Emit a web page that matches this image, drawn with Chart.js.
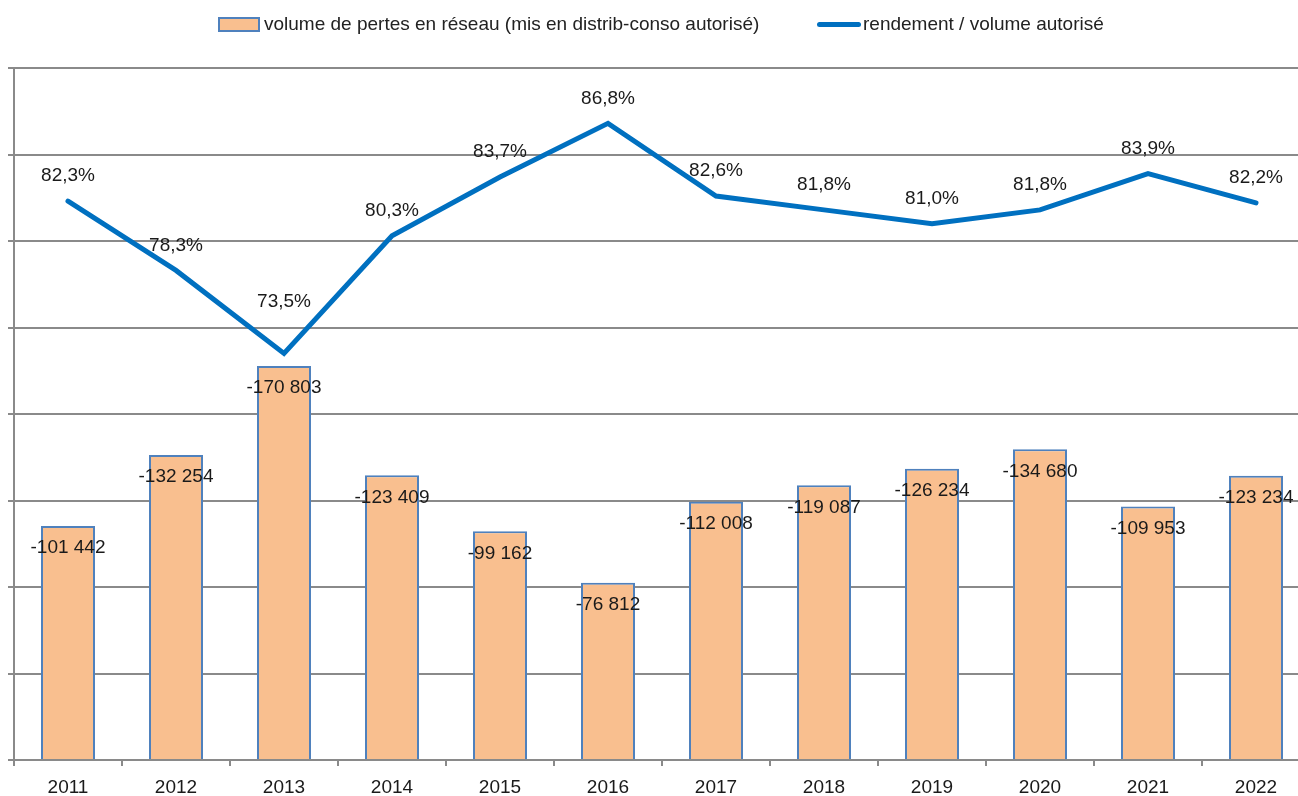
<!DOCTYPE html>
<html>
<head>
<meta charset="utf-8">
<script src="https://cdn.jsdelivr.net/npm/chart.js@4.4.1/dist/chart.umd.min.js"></script>
<style>
    body { margin: 0; overflow: hidden; background: #fff; font-family: 'Liberation Sans', Arial, sans-serif; }
    #wrap { position: relative; width: 1298px; height: 796px; overflow: hidden; }
    .leg { position: absolute; top: 13px; font-size: 19px; color: #222; display: flex; align-items: center; white-space: nowrap; }
    .leg .box { width: 38px; height: 11px; background: #F9BF8F; border: 2px solid #4F81BD; margin-right: 4px; }
    .leg .ln { width: 44px; height: 5px; background: #0070C0; border-radius: 3px; margin-right: 2px; }
    canvas { position: absolute; left: 0; top: 0; }
</style>
</head>
<body>
<div id="wrap">
    <canvas id="chart" width="1312" height="810"></canvas>
    <div class="leg" style="left:218px"><span class="box"></span>volume de pertes en réseau (mis en distrib-conso autorisé)</div>
    <div class="leg" style="left:817px"><span class="ln"></span>rendement / volume autorisé</div>
</div>
<script>
// DATA
const years = ['2011', '2012', '2013', '2014', '2015', '2016', '2017', '2018', '2019', '2020', '2021', '2022'];
const pertes = [-101442, -132254, -170803, -123409, -99162, -76812, -112008, -119087, -126234, -134680, -109953, -123234];
const rendement = [82.3, 78.3, 73.5, 80.3, 83.7, 86.8, 82.6, 81.8, 81.0, 81.8, 83.9, 82.2];
// DATA

const gridGrey = '#8a8a8a';
const labelFont = '19px "Liberation Sans", Arial, sans-serif';

function fmtVolume(v){
    let s = Math.abs(v).toString().replace(/\B(?=(\d{3})+(?!\d))/g, ' ');
    return (v < 0 ? '-' : '') + s;
}
function fmtPct(v){
    return v.toFixed(1).replace('.', ',') + '%';
}

// LABELS ON BARS AND LINE
const valueLabels = {
    id: 'valueLabels',
    afterDatasetsDraw(chart){
        const ctx = chart.ctx;
        ctx.save();
        ctx.font = labelFont;
        ctx.fillStyle = '#1a1a1a';
        ctx.textAlign = 'center';
        ctx.textBaseline = 'middle';
        chart.getDatasetMeta(1).data.forEach(function(bar, i){
            ctx.fillText(fmtVolume(pertes[i]), bar.x, bar.y + 22);
        });
        chart.getDatasetMeta(0).data.forEach(function(pt, i){
            let lift = (i === 2) ? 52 : 25;
            ctx.fillText(fmtPct(rendement[i]), pt.x, pt.y - lift);
        });
        ctx.restore();
    }
};

const ctx = document.getElementById('chart').getContext('2d');
new Chart(ctx, {
    data: {
        labels: years,
        datasets: [{
            type: 'line',
            label: 'rendement / volume autorisé',
            data: rendement,
            yAxisID: 'y1',
            borderColor: '#0070C0',
            borderWidth: 5,
            pointRadius: 0,
            tension: 0,
            borderCapStyle: 'round',
            order: 0
        }, {
            type: 'bar',
            label: 'volume de pertes en réseau (mis en distrib-conso autorisé)',
            data: pertes,
            yAxisID: 'y',
            backgroundColor: '#F9BF8F',
            borderColor: '#4F81BD',
            borderWidth: 2,
            barPercentage: 0.5,
            categoryPercentage: 1,
            order: 1
        }]
    },
    options: {
        responsive: false,
        animation: false,
        layout: { padding: { top: 68, left: 8, right: 2, bottom: 1 } },
        plugins: { legend: { display: false }, tooltip: { enabled: false } },
        scales: {
            x: {
                grid: { offset: true, drawOnChartArea: false, color: gridGrey, lineWidth: 2, tickLength: 6 },
                border: { color: gridGrey, width: 2 },
                ticks: { color: '#1a1a1a', font: { family: '"Liberation Sans", Arial, sans-serif', size: 19, lineHeight: 1 }, padding: 12, maxRotation: 0 }
            },
            y: {
                reverse: true,
                min: -300000,
                max: 0,
                ticks: { display: false, stepSize: 37500 },
                grid: { color: gridGrey, lineWidth: 2, tickLength: 6 },
                border: { color: gridGrey, width: 2 }
            },
            y1: {
                display: false,
                min: 50,
                max: 90
            }
        }
    },
    plugins: [valueLabels]
});
</script>
</body>
</html>
